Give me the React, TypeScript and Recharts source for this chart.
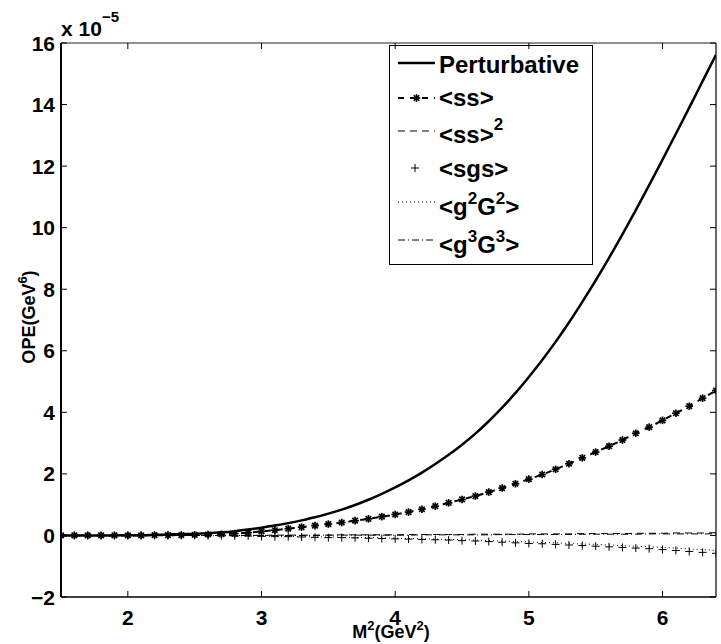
import { Line, LineChart, XAxis, YAxis } from 'recharts';

// M^2 (GeV^2) sample points
const mSquared = [
  1.5, 1.6, 1.7, 1.8, 1.9, 2.0, 2.1, 2.2, 2.3, 2.4,
  2.5, 2.6, 2.7, 2.8, 2.9, 3.0, 3.1, 3.2, 3.3, 3.4,
  3.5, 3.6, 3.7, 3.8, 3.9, 4.0, 4.1, 4.2, 4.3, 4.4,
  4.5, 4.6, 4.7, 4.8, 4.9, 5.0, 5.1, 5.2, 5.3, 5.4,
  5.5, 5.6, 5.7, 5.8, 5.9, 6.0, 6.1, 6.2, 6.3, 6.4,
];

// values in units of 1e-5 GeV^6
const perturbative = [
  0.0, 0.0, 0.0, 0.0, 0.0, 0.01, 0.01, 0.02, 0.03, 0.04,
  0.05, 0.07, 0.1, 0.14, 0.19, 0.25, 0.32, 0.4, 0.49, 0.59,
  0.71, 0.84, 0.99, 1.16, 1.35, 1.56, 1.79, 2.04, 2.32, 2.62,
  2.95, 3.31, 3.71, 4.15, 4.63, 5.15, 5.7, 6.29, 6.92, 7.59,
  8.29, 9.02, 9.78, 10.57, 11.38, 12.21, 13.05, 13.9, 14.76, 15.62,
];

const quarkCond = [
  0.0, 0.0, 0.0, 0.0, 0.0, 0.0, 0.0, 0.01, 0.01, 0.01,
  0.02, 0.03, 0.04, 0.06, 0.09, 0.13, 0.17, 0.22, 0.27, 0.32,
  0.37, 0.42, 0.48, 0.54, 0.61, 0.68, 0.76, 0.85, 0.95, 1.06,
  1.17, 1.28, 1.41, 1.54, 1.68, 1.83, 1.98, 2.15, 2.33, 2.52,
  2.71, 2.9, 3.1, 3.32, 3.52, 3.74, 3.97, 4.2, 4.46, 4.71,
];

const quarkCondSq = [
  0.0, 0.0, 0.0, 0.0, 0.0, 0.0, 0.0, 0.0, 0.0, 0.0,
  0.0, 0.0, 0.0, 0.0, 0.0, 0.0, 0.01, 0.01, 0.01, 0.01,
  0.01, 0.02, 0.02, 0.02, 0.02, 0.02, 0.03, 0.03, 0.03, 0.03,
  0.03, 0.04, 0.04, 0.04, 0.04, 0.05, 0.05, 0.05, 0.05, 0.06,
  0.06, 0.06, 0.06, 0.07, 0.07, 0.07, 0.08, 0.08, 0.08, 0.09,
];

const mixedCond = [
  0.0, 0.0, 0.0, 0.0, 0.0, 0.0, 0.0, 0.0, 0.0, 0.0,
  0.0, -0.01, -0.01, -0.02, -0.02, -0.03, -0.04, -0.04, -0.05, -0.06,
  -0.07, -0.07, -0.08, -0.09, -0.1, -0.11, -0.12, -0.13, -0.14, -0.15,
  -0.17, -0.18, -0.2, -0.22, -0.24, -0.26, -0.27, -0.29, -0.31, -0.33,
  -0.35, -0.37, -0.39, -0.41, -0.43, -0.46, -0.49, -0.52, -0.55, -0.58,
];

const gluonTwo = [
  0.0, 0.0, 0.0, 0.0, 0.0, 0.0, 0.0, 0.0, 0.0, 0.0,
  0.0, -0.01, -0.01, -0.01, -0.02, -0.02, -0.03, -0.03, -0.04, -0.05,
  -0.05, -0.06, -0.07, -0.07, -0.08, -0.09, -0.1, -0.11, -0.12, -0.13,
  -0.14, -0.15, -0.17, -0.18, -0.2, -0.21, -0.23, -0.24, -0.26, -0.28,
  -0.29, -0.31, -0.33, -0.35, -0.37, -0.39, -0.41, -0.44, -0.46, -0.49,
];

const gluonThree = [
  0.0, 0.0, 0.0, 0.0, 0.0, 0.0, 0.0, 0.0, 0.0, 0.0,
  0.0, 0.0, 0.0, 0.0, 0.0, 0.0, 0.0, 0.0, 0.0, 0.0,
  0.01, 0.01, 0.01, 0.01, 0.01, 0.01, 0.01, 0.02, 0.02, 0.02,
  0.02, 0.02, 0.02, 0.03, 0.03, 0.03, 0.03, 0.03, 0.03, 0.04,
  0.04, 0.04, 0.04, 0.04, 0.05, 0.05, 0.05, 0.05, 0.05, 0.06,
];

const xTicks = [2, 3, 4, 5, 6];
const yTicks = [-2, 0, 2, 4, 6, 8, 10, 12, 14, 16];

const data = mSquared.map((m, i) => ({
  m,
  pert: perturbative[i],
  ss: quarkCond[i],
  ss2: quarkCondSq[i],
  sgs: mixedCond[i],
  g2: gluonTwo[i],
  g3: gluonThree[i],
}));

const FONT = '"Liberation Sans", Arial, Helvetica, sans-serif';
const tickText = { fill: '#000', fontSize: 21, fontWeight: 700, fontFamily: FONT };
const TICK_LEN = 6;

const fmtY = (v: number) => (v < 0 ? `\u2212${Math.abs(v)}` : String(v));

// inward MATLAB-style ticks drawn with the label
const BottomTick = (props: any) => {
  const { x, y, payload } = props;
  return (
    <g>
      <line x1={x} y1={y} x2={x} y2={y - TICK_LEN} stroke="#000" strokeWidth={1} />
      <text x={x} y={y + 28} textAnchor="middle" {...tickText}>{payload.value}</text>
    </g>
  );
};

const LeftTick = (props: any) => {
  const { x, y, payload } = props;
  return (
    <g>
      <line x1={x} y1={y} x2={x + TICK_LEN} y2={y} stroke="#000" strokeWidth={1} />
      <text x={x - 6} y={y + 7.5} textAnchor="end" {...tickText}>{fmtY(payload.value)}</text>
    </g>
  );
};

const TopTick = (props: any) => {
  const { x, y } = props;
  return <line x1={x} y1={y} x2={x} y2={y + TICK_LEN} stroke="#000" strokeWidth={1} />;
};

const RightTick = (props: any) => {
  const { x, y } = props;
  return <line x1={x} y1={y} x2={x - TICK_LEN} y2={y} stroke="#000" strokeWidth={1} />;
};

const asterisk = (cx: number, cy: number, key: string | number) => {
  const r = 3.8;
  const d = r * 0.72;
  return (
    <g key={key} stroke="#000" strokeWidth={1.7}>
      <line x1={cx - r} y1={cy} x2={cx + r} y2={cy} />
      <line x1={cx} y1={cy - r} x2={cx} y2={cy + r} />
      <line x1={cx - d} y1={cy - d} x2={cx + d} y2={cy + d} />
      <line x1={cx - d} y1={cy + d} x2={cx + d} y2={cy - d} />
    </g>
  );
};

const plus = (cx: number, cy: number, key: string | number) => (
  <g key={key} stroke="#000" strokeWidth={1}>
    <line x1={cx - 4} y1={cy} x2={cx + 4} y2={cy} />
    <line x1={cx} y1={cy - 4} x2={cx} y2={cy + 4} />
  </g>
);

const AsteriskDot = (props: any) => {
  const { cx, cy, index } = props;
  if (cx == null || cy == null) return <g key={`a${index}`} />;
  return asterisk(cx, cy, `a${index}`);
};

const PlusDot = (props: any) => {
  const { cx, cy, index } = props;
  if (cx == null || cy == null) return <g key={`p${index}`} />;
  return plus(cx, cy, `p${index}`);
};

function LegendBox() {
  const x0 = 398;
  const x1 = 435;
  const tx = 439;
  const txt = { fontFamily: FONT, fontWeight: 700, fontSize: 24, fill: '#000' };
  return (
    <g>
      <rect x={389.5} y={45.5} width={203} height={219} fill="#fff" stroke="#000" strokeWidth={1} />
      <line x1={x0} y1={63} x2={x1} y2={63} stroke="#000" strokeWidth={2.5} />
      <text x={tx} y={73} {...txt}>Perturbative</text>

      <line x1={x0} y1={98} x2={x1} y2={98} stroke="#000" strokeWidth={2} strokeDasharray="6 6" />
      {asterisk(416.5, 98, 'la')}
      <text x={tx} y={106} {...txt}>{'<ss>'}</text>

      <line x1={x0} y1={131} x2={x1} y2={131} stroke="#000" strokeWidth={1} strokeDasharray="7 5" />
      <text x={tx} y={143} {...txt}>
        {'<ss>'}
        <tspan dy={-13} fontSize={17}>2</tspan>
      </text>

      {plus(415, 168, 'lp')}
      <text x={tx} y={177} {...txt}>{'<sgs>'}</text>

      <line x1={x0} y1={202} x2={x1} y2={202} stroke="#000" strokeWidth={1} strokeDasharray="1 3" />
      <text x={tx} y={215} {...txt}>
        {'<g'}
        <tspan dy={-11} fontSize={17}>2</tspan>
        <tspan dy={11}>G</tspan>
        <tspan dy={-11} fontSize={17}>2</tspan>
        <tspan dy={11}>{'>'}</tspan>
      </text>

      <line x1={x0} y1={240} x2={x1} y2={240} stroke="#000" strokeWidth={1} strokeDasharray="7 3 1 3" />
      <text x={tx} y={253} {...txt}>
        {'<g'}
        <tspan dy={-11} fontSize={17}>3</tspan>
        <tspan dy={11}>G</tspan>
        <tspan dy={-11} fontSize={17}>3</tspan>
        <tspan dy={11}>{'>'}</tspan>
      </text>
    </g>
  );
}

export default function App() {
  const lbl = { fontFamily: FONT, fontWeight: 700, fontSize: 18, fill: '#000' };
  return (
    <div style={{ position: 'absolute', left: 0, top: 0, width: 721, height: 644, background: '#fff' }}>
      <LineChart width={721} height={644} data={data} margin={{ top: 0, right: 0, bottom: 0, left: 0 }}>
        <XAxis
          dataKey="m"
          type="number"
          domain={[1.5, 6.4]}
          ticks={xTicks}
          allowDataOverflow
          height={47}
          tick={BottomTick}
          tickSize={0}
          tickMargin={0}
          tickLine={false}
          axisLine={{ stroke: '#000', strokeWidth: 1.5 }}
        />
        <XAxis
          xAxisId="top"
          dataKey="m"
          type="number"
          orientation="top"
          domain={[1.5, 6.4]}
          ticks={xTicks}
          allowDataOverflow
          height={43}
          tick={TopTick}
          tickSize={0}
          tickMargin={0}
          tickLine={false}
          axisLine={{ stroke: '#222', strokeWidth: 1.2 }}
        />
        <YAxis
          type="number"
          domain={[-2, 16]}
          ticks={yTicks}
          allowDataOverflow
          width={61}
          tick={LeftTick}
          tickSize={0}
          tickMargin={0}
          tickLine={false}
          axisLine={{ stroke: '#000', strokeWidth: 2 }}
        />
        <YAxis
          yAxisId="right"
          type="number"
          orientation="right"
          domain={[-2, 16]}
          ticks={yTicks}
          allowDataOverflow
          width={5}
          tick={RightTick}
          tickSize={0}
          tickMargin={0}
          tickLine={false}
          axisLine={{ stroke: '#000', strokeWidth: 1.2 }}
        />

        <Line dataKey="g3" type="monotone" stroke="#000" strokeWidth={1} strokeDasharray="7 3 1 3" dot={false} isAnimationActive={false} />
        <Line dataKey="g2" type="monotone" stroke="#000" strokeWidth={1} strokeDasharray="1 3" dot={false} isAnimationActive={false} />
        <Line dataKey="sgs" stroke="none" dot={PlusDot} isAnimationActive={false} />
        <Line dataKey="ss2" type="monotone" stroke="#000" strokeWidth={1} strokeDasharray="7 5" dot={false} isAnimationActive={false} />
        <Line dataKey="ss" type="monotone" stroke="#000" strokeWidth={2} strokeDasharray="6 6" dot={AsteriskDot} isAnimationActive={false} />
        <Line dataKey="pert" type="monotone" stroke="#000" strokeWidth={2.5} dot={false} isAnimationActive={false} />

        <text x={61} y={36} fontFamily={FONT} fontWeight={700} fontSize={21} fill="#000">
          x 10
          <tspan dy={-14} fontSize={15}>{'\u22125'}</tspan>
        </text>
        <text x={391} y={638} textAnchor="middle" {...lbl}>
          M<tspan dy={-8} fontSize={13}>2</tspan>
          <tspan dy={8}>(GeV</tspan>
          <tspan dy={-8} fontSize={13}>2</tspan>
          <tspan dy={8}>)</tspan>
        </text>
        <text transform="translate(35,317) rotate(-90)" textAnchor="middle" {...lbl}>
          OPE(GeV<tspan dy={-8} fontSize={13}>6</tspan>
          <tspan dy={8}>)</tspan>
        </text>
        <LegendBox />
      </LineChart>
    </div>
  );
}
